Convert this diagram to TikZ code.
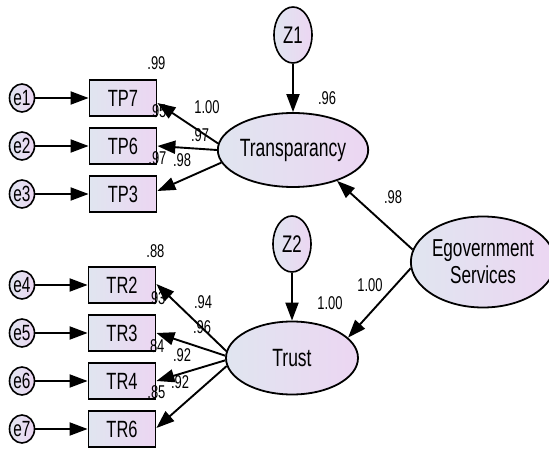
\documentclass[tikz,border=0pt]{standalone}
\usepackage{fontspec}
\setmainfont{Liberation Sans}[FakeStretch=0.7]
\usetikzlibrary{shapes.geometric,arrows.meta,positioning}
\definecolor{fillleft}{HTML}{E0E5F0}
\definecolor{fillright}{HTML}{ECD6F2}
\tikzstyle{observed} = [rectangle, minimum width=67pt, minimum height=36pt, text
centered, draw=black, line width=1.8pt, left color=fillleft, right color=fillright,
font=\fontsize{23.5}{25}\selectfont]
\tikzstyle{error} = [ellipse, minimum width=25pt, minimum height=28pt, inner sep=0pt,
draw=black, line width=1.6pt, left color=fillleft, right color=fillright,
font=\fontsize{22}{24}\selectfont]
\tikzstyle{latent} = [ellipse, minimum width=132pt, minimum height=74pt, inner sep=0pt,
text centered, draw=black, line width=1.8pt, left color=fillleft, right color=fillright,
font=\fontsize{25}{27}\selectfont, align=center]
\tikzstyle{num} = [inner sep=0pt, font=\fontsize{18.5}{20}\selectfont]
\tikzstyle{arrow} = [line width=1.9pt,-{Triangle[length=18pt,width=13pt]}]

\begin{document}
\begin{tikzpicture}[x=1pt, y=-1pt, node distance=48pt]
              \useasboundingbox (0,0) rectangle (549,449);
              \node (tp7) [observed] at (123,98) {TP7};
              \node (tp6) [observed, below of=tp7] {TP6};
              \node (tp3) [observed, below of=tp6] {TP3};
              \node (tr2) [observed] at (122,285) {TR2};
              \node (tr3) [observed, below of=tr2] {TR3};
              \node (tr4) [observed, below of=tr3] {TR4};
              \node (tr6) [observed, below of=tr4] {TR6};

              \node (e1) [error, left of=tp7, xshift=-53pt] {e1};
              \node (e2) [error, left of=tp6, xshift=-53pt] {e2};
              \node (e3) [error, left of=tp3, xshift=-53pt] {e3};
              \node (e4) [error, left of=tr2, xshift=-52pt] {e4};
              \node (e5) [error, left of=tr3, xshift=-52pt] {e5};
              \node (e6) [error, left of=tr4, xshift=-52pt] {e6};
              \node (e7) [error, left of=tr6, xshift=-52pt] {e7};

              \node (trans) [latent] at (293,150) {Transparancy};
              \node (trust) [latent, minimum height=73pt] at (292,358) {Trust};
              \node (egov) [latent, minimum width=130pt, minimum height=91pt,
              font=\fontsize{24.5}{27}\selectfont] at (483,262) {Egovernment\\Services};
              \node (z1) [error, minimum width=38pt, minimum height=56pt,
              font=\fontsize{24}{26}\selectfont, above of=trans, yshift=67pt] {Z1};
              \node (z2) [error, minimum width=38pt, minimum height=56pt,
              font=\fontsize{24}{26}\selectfont, above of=trust, yshift=66pt] {Z2};

              \draw [arrow] (e1) -- (tp7);
              \draw [arrow] (e2) -- (tp6);
              \draw [arrow] (e3) -- (tp3);
              \draw [arrow] (e4) -- (tr2);
              \draw [arrow] (e5) -- (tr3);
              \draw [arrow] (e6) -- (tr4);
              \draw [arrow] (e7) -- (tr6);

              \draw [arrow] (trans.175) -- ([yshift=-5pt]tp7.east);
              \draw [arrow] (trans.west) -- (tp6.east);
              \draw [arrow] (trans.190) -- ([yshift=3pt]tp3.east);
              \draw [arrow] (trust.174) -- ([yshift=1pt]tr2.east);
              \draw [arrow] (trust.178) -- (tr3.east);
              \draw [arrow] (trust.182) -- (tr4.east);
              \draw [arrow] (trust.187) -- ([yshift=1pt]tr6.east);

              \draw [arrow] (z1) -- (trans);
              \draw [arrow] (z2) -- (trust);
              \draw [arrow] (egov.170) -- (trans.-35);
              \draw [arrow] (egov.185) -- (trust.20);

              % squared multiple correlations
              \node (r2tp7) [num] at ([xshift=-1pt, yshift=16pt]tp7.north east) {.99};
              \node (r2tp6) [num] at ([xshift=0pt, yshift=16pt]tp6.north east) {.95};
              \node (r2tp3) [num] at ([xshift=0pt, yshift=17pt]tp3.north east) {.97};
              \node (r2tr2) [num] at ([xshift=-1pt, yshift=15pt]tr2.north east) {.88};
              \node (r2tr3) [num] at ([xshift=0pt, yshift=16pt]tr3.north east) {.93};
              \node (r2tr4) [num] at ([xshift=-1pt, yshift=16pt]tr4.north east) {.84};
              \node (r2tr6) [num] at ([xshift=0pt, yshift=18pt]tr6.north east) {.85};
              \node (r2trans) [num] at (327,98) {.96};
              \node (r2trust) [num] at (330,303) {1.00};

              % loadings
              \node (ltp7) [num] at (207,107) {1.00};
              \node (ltp6) [num] at (200,135) {.97};
              \node (ltp3) [num] at (182,160) {.98};
              \node (ltr2) [num] at (203,302) {.94};
              \node (ltr3) [num] at (202,327) {.96};
              \node (ltr4) [num] at (182,355) {.92};
              \node (ltr6) [num] at (180,382) {.92};
              \node (ltrans) [num] at (393,197) {.98};
              \node (ltrust) [num] at (370,285) {1.00};
            \end{tikzpicture}
\end{document}
